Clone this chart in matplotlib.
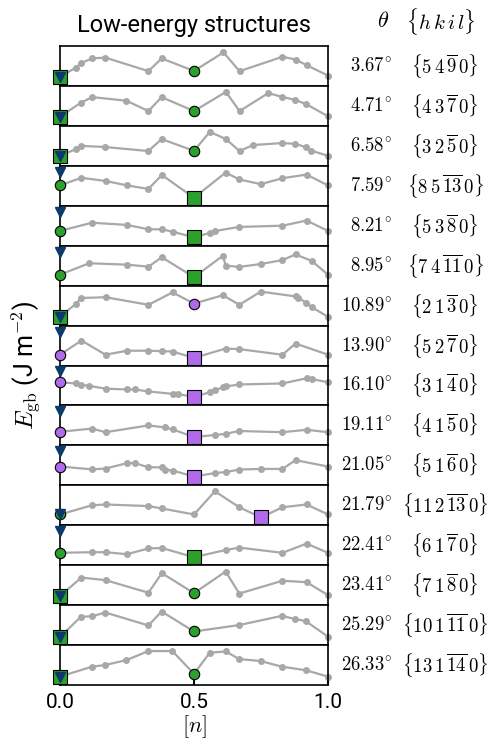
import matplotlib
matplotlib.use("Agg")
import matplotlib.pyplot as plt

plt.rcParams["font.family"] = ["Roboto", "DejaVu Sans"]
plt.rcParams["mathtext.fontset"] = "cm"

# misorientation angles and boundary planes, top to bottom
theta = ["3.67", "4.71", "6.58", "7.59", "8.21", "8.95", "10.89", "13.90",
         "16.10", "19.11", "21.05", "21.79", "22.41", "23.41", "25.29", "26.33"]
planes = [
    r"\{5\,4\,\overline{9}\,0\}", r"\{4\,3\,\overline{7}\,0\}", r"\{3\,2\,\overline{5}\,0\}",
    r"\{8\,5\,\overline{13}\,0\}", r"\{5\,3\,\overline{8}\,0\}", r"\{7\,4\,\overline{11}\,0\}",
    r"\{2\,1\,\overline{3}\,0\}", r"\{5\,2\,\overline{7}\,0\}", r"\{3\,1\,\overline{4}\,0\}",
    r"\{4\,1\,\overline{5}\,0\}", r"\{5\,1\,\overline{6}\,0\}", r"\{11\,2\,\overline{13}\,0\}",
    r"\{6\,1\,\overline{7}\,0\}", r"\{7\,1\,\overline{8}\,0\}", r"\{10\,1\,\overline{11}\,0\}",
    r"\{13\,1\,\overline{14}\,0\}",
]

# translation state [n] and relative GB energy (scaled to panel)
n_vals = [
    [0, 0.06, 0.078, 0.12, 0.169, 0.33, 0.379, 0.5, 0.61, 0.67, 0.83, 0.88, 0.92, 1.0],
    [0, 0.078, 0.12, 0.248, 0.33, 0.379, 0.5, 0.619, 0.67, 0.777, 0.827, 0.877, 0.917, 1.0],
    [0, 0.06, 0.078, 0.169, 0.33, 0.379, 0.5, 0.559, 0.619, 0.67, 0.72, 0.83, 0.877, 0.917, 0.938, 1.0],
    [0, 0.08, 0.17, 0.25, 0.33, 0.38, 0.5, 0.618, 0.669, 0.749, 0.83, 0.92, 1.0],
    [0, 0.119, 0.25, 0.33, 0.38, 0.42, 0.5, 0.56, 0.58, 0.669, 0.83, 0.92, 1.0],
    [0, 0.109, 0.25, 0.33, 0.38, 0.5, 0.608, 0.618, 0.669, 0.749, 0.83, 0.879, 0.939, 1.0],
    [0, 0.06, 0.08, 0.17, 0.33, 0.42, 0.5, 0.608, 0.669, 0.749, 0.879, 0.889, 0.919, 0.939, 1.0],
    [0, 0.08, 0.17, 0.25, 0.33, 0.38, 0.42, 0.5, 0.618, 0.669, 0.83, 0.879, 1.0],
    [0, 0.06, 0.08, 0.109, 0.17, 0.25, 0.28, 0.33, 0.42, 0.44, 0.5, 0.56, 0.58, 0.608, 0.618, 0.669, 0.83, 0.92, 0.94, 1.0],
    [0, 0.119, 0.17, 0.33, 0.39, 0.42, 0.5, 0.58, 0.618, 0.669, 0.83, 0.92, 1.0],
    [0, 0.119, 0.17, 0.25, 0.28, 0.33, 0.38, 0.39, 0.42, 0.5, 0.58, 0.618, 0.669, 0.749, 0.83, 0.879, 1.0],
    [0, 0.119, 0.17, 0.33, 0.38, 0.5, 0.578, 0.669, 0.75, 0.83, 0.92, 1.0],
    [0, 0.119, 0.17, 0.25, 0.33, 0.38, 0.5, 0.618, 0.669, 0.83, 0.92, 1.0],
    [0, 0.08, 0.17, 0.33, 0.38, 0.5, 0.618, 0.669, 0.83, 0.92, 1.0],
    [0, 0.078, 0.12, 0.169, 0.33, 0.379, 0.5, 0.668, 0.827, 0.877, 0.917, 1.0],
    [0, 0.12, 0.169, 0.248, 0.33, 0.419, 0.5, 0.559, 0.619, 0.668, 0.749, 0.827, 0.917, 1.0],
]
e_vals = [
    [0.23, 0.46, 0.57, 0.69, 0.71, 0.37, 0.69, 0.375, 0.84, 0.37, 0.73, 0.66, 0.52, 0.26],
    [0.23, 0.58, 0.72, 0.63, 0.37, 0.72, 0.37, 0.85, 0.37, 0.82, 0.73, 0.65, 0.55, 0.24],
    [0.25, 0.42, 0.5, 0.47, 0.37, 0.67, 0.375, 0.85, 0.67, 0.37, 0.52, 0.57, 0.55, 0.47, 0.38, 0.25],
    [0.51, 0.70, 0.62, 0.51, 0.42, 0.77, 0.2, 0.83, 0.66, 0.54, 0.69, 0.78, 0.51],
    [0.37, 0.575, 0.52, 0.41, 0.41, 0.35, 0.21, 0.32, 0.37, 0.47, 0.5, 0.63, 0.37],
    [0.275, 0.56, 0.525, 0.475, 0.71, 0.21, 0.75, 0.5, 0.47, 0.54, 0.64, 0.78, 0.62, 0.275],
    [0.22, 0.55, 0.69, 0.71, 0.52, 0.83, 0.55, 0.76, 0.52, 0.85, 0.73, 0.70, 0.57, 0.46, 0.22],
    [0.27, 0.625, 0.27, 0.37, 0.37, 0.36, 0.35, 0.19, 0.425, 0.41, 0.27, 0.55, 0.27],
    [0.58, 0.55, 0.52, 0.49, 0.42, 0.40, 0.40, 0.35, 0.29, 0.28, 0.22, 0.33, 0.39, 0.45, 0.475, 0.525, 0.55, 0.68, 0.66, 0.58],
    [0.34, 0.42, 0.33, 0.5, 0.45, 0.4, 0.21, 0.26, 0.29, 0.36, 0.33, 0.39, 0.33],
    [0.47, 0.40, 0.42, 0.555, 0.555, 0.45, 0.45, 0.395, 0.37, 0.22, 0.31, 0.33, 0.395, 0.41, 0.41, 0.63, 0.47],
    [0.27, 0.5, 0.52, 0.48, 0.42, 0.27, 0.85, 0.45, 0.195, 0.45, 0.52, 0.27],
    [0.31, 0.325, 0.325, 0.275, 0.42, 0.43, 0.2, 0.38, 0.44, 0.31, 0.54, 0.31],
    [0.23, 0.69, 0.625, 0.31, 0.8, 0.3, 0.84, 0.29, 0.61, 0.575, 0.25],
    [0.2, 0.71, 0.72, 0.815, 0.49, 0.84, 0.34, 0.5, 0.73, 0.655, 0.6, 0.21],
    [0.21, 0.46, 0.5, 0.625, 0.85, 0.85, 0.28, 0.81, 0.84, 0.65, 0.6, 0.46, 0.37, 0.21],
]

# special structures: circle, square (lowest), triangle (reference)
circle_n = [0.5, 0.5, 0.5, 0, 0, 0, 0.5, 0, 0, 0, 0, 0, 0, 0.5, 0.5, 0.5]
circle_kind = ["g", "g", "g", "g", "g", "g", "p", "p", "p", "p", "p", "g", "g", "g", "g", "g"]
square_n = [0, 0, 0, 0.5, 0.5, 0.5, 0, 0.5, 0.5, 0.5, 0.5, 0.75, 0.5, 0, 0, 0]
square_kind = ["g", "g", "g", "g", "g", "g", "g", "p", "p", "p", "p", "p", "g", "g", "g", "g"]
tri_e = [0.23, 0.23, 0.25, 0.85, 0.85, 0.85, 0.22, 0.85, 0.85, 0.85, 0.85, 0.27, 0.85, 0.23, 0.2, 0.21]

COLORS = {"g": "#2ca02c", "p": "#b06aea"}
TRI_COLOR = "#0b3a6b"
LINE_GRAY = "#a8a8a8"

fig = plt.figure(figsize=(4.92, 7.41), dpi=100)
gs = fig.add_gridspec(len(theta), 1, left=60 / 492, right=328 / 492,
                      top=1 - 46 / 741, bottom=1 - 685 / 741, hspace=0)
axes = [fig.add_subplot(gs[i, 0]) for i in range(len(theta))]

for i, ax in enumerate(axes):
    n = n_vals[i]
    e = e_vals[i]
    ax.plot(n, e, "-o", color=LINE_GRAY, lw=1.6, ms=4, zorder=2, clip_on=False)
    ci = n.index(circle_n[i])
    si = n.index(square_n[i])
    ax.plot(n[ci], e[ci], "o", ms=7.5, mfc=COLORS[circle_kind[i]], mec="black",
            mew=0.8, zorder=3, clip_on=False)
    ax.plot(n[si], e[si], "s", ms=9.5, mfc=COLORS[square_kind[i]], mec="black",
            mew=0.8, zorder=3, clip_on=False)
    ax.plot(0, tri_e[i], "v", ms=7, color=TRI_COLOR, mec=TRI_COLOR, zorder=4, clip_on=False)
    ax.set_xlim(0, 1)
    ax.set_ylim(0, 1)
    ax.set_yticks([])
    for sp in ax.spines.values():
        sp.set_linewidth(1.2)
    ax.text(1.24, 0.5, "$" + theta[i] + r"^{\circ}$", transform=ax.transAxes,
            ha="right", va="center", fontsize=13.5)
    ax.text(1.437, 0.5, "$" + planes[i] + "$", transform=ax.transAxes,
            ha="center", va="center", fontsize=13.5)
    if i < len(axes) - 1:
        ax.tick_params(bottom=False, labelbottom=False)
    else:
        ax.set_xticks([0, 0.5, 1.0])
        ax.set_xticklabels(["0.0", "0.5", "1.0"])
        ax.tick_params(axis="x", direction="in", length=5, width=1.5, labelsize=15, pad=6)
        ax.set_xlabel(r"$[n]$", fontsize=16, labelpad=1)

axes[0].set_title("Low-energy structures", fontsize=17, pad=10)
axes[0].text(1.205, 1.62, r"$\theta$", transform=axes[0].transAxes,
             ha="center", va="center", fontsize=16)
axes[0].text(1.42, 1.62, r"$\{h\,k\,i\,l\}$", transform=axes[0].transAxes,
             ha="center", va="center", fontsize=15)
fig.text(0.055, (1 - 365 / 741), r"$E_{\rm gb}$ (J m$^{-2}$)", rotation=90,
         ha="center", va="center", fontsize=18)

fig.savefig("out.png", dpi=100)
